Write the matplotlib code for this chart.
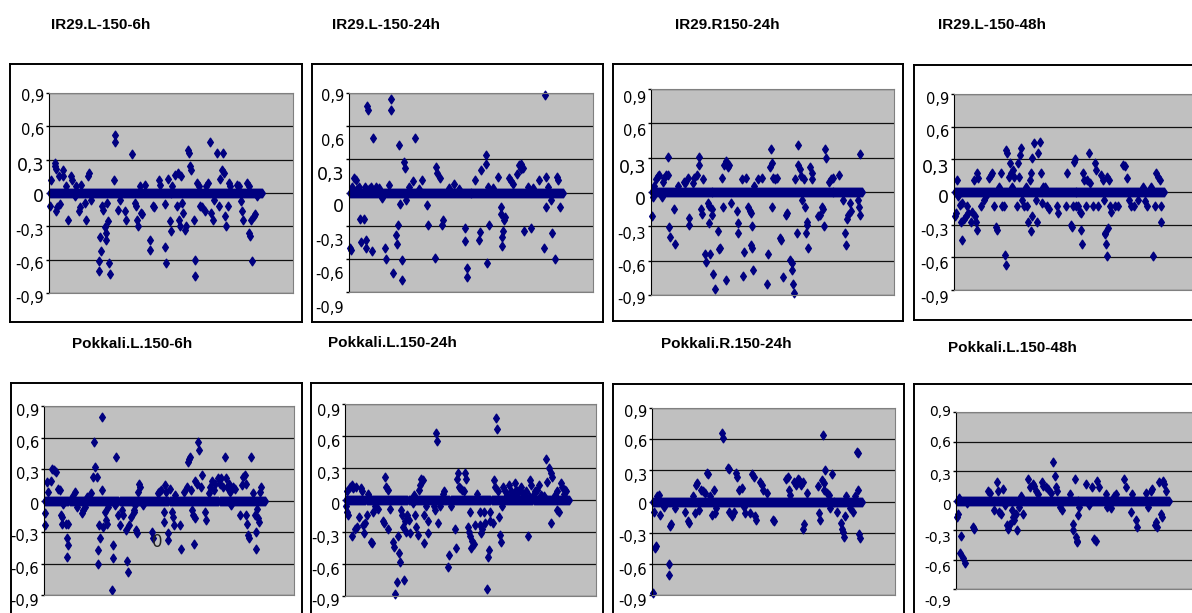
import numpy as np
import matplotlib.pyplot as plt
from matplotlib.path import Path
from matplotlib.transforms import ScaledTranslation

W, H = 1192, 613

titles = ["IR29.L-150-6h", "IR29.L-150-24h", "IR29.R150-24h", "IR29.L-150-48h",
          "Pokkali.L.150-6h", "Pokkali.L.150-24h", "Pokkali.R.150-24h", "Pokkali.L.150-48h"]

# genes per array; every gene not listed below sits on 0
n_genes = [214, 215, 213, 211, 217, 219, 212, 214]

# (gene index, log ratio) of the genes that move away from 0
ir29_l_6h = [
    (1, -0.12), (2, 0.12), (6, 0.24), (6, 0.27), (7, 0.22), (7, -0.16), (8, -0.13), (10, 0.15),
    (11, -0.1), (14, 0.21), (14, 0.15), (17, 0.06), (19, -0.24), (22, 0.15), (23, 0.12), (26, -0.03),
    (27, 0.06), (30, -0.16), (31, -0.13), (32, 0.07), (36, -0.09), (37, -0.24), (39, 0.15), (40, 0.18),
    (42, -0.06), (50, -0.61), (50, -0.7), (51, -0.4), (52, -0.52), (53, -0.12), (54, -0.15), (56, -0.31),
    (57, -0.36), (57, -0.42), (58, -0.09), (59, -0.25), (60, -0.63), (61, -0.73), (65, 0.12), (66, 0.52),
    (66, 0.46), (69, -0.15), (71, -0.06), (76, -0.16), (77, -0.24), (83, 0.35), (86, -0.09), (87, -0.12),
    (88, -0.24), (89, -0.3), (91, 0.06), (92, -0.18), (93, -0.19), (96, 0.07), (101, -0.42), (101, -0.51),
    (104, -0.12), (105, -0.13), (110, 0.12), (111, 0.07), (116, -0.1), (116, -0.49), (117, -0.63),
    (119, 0.13), (121, -0.25), (122, -0.34), (124, 0.06), (127, 0.16), (129, -0.12), (130, 0.18),
    (131, -0.24), (132, -0.3), (133, 0.15), (134, -0.09), (135, -0.18), (137, -0.33), (138, -0.3),
    (140, 0.39), (141, 0.36), (142, 0.24), (143, 0.21), (146, -0.24), (147, -0.75), (147, -0.6),
    (149, 0.09), (151, 0.06), (152, -0.12), (154, -0.13), (157, -0.16), (158, 0.06), (160, 0.09),
    (162, 0.46), (163, -0.18), (165, -0.24), (166, -0.06), (169, 0.36), (171, -0.12), (172, 0.13),
    (174, 0.21), (175, 0.36), (176, 0.18), (177, -0.21), (178, -0.3), (180, -0.12), (181, 0.09),
    (182, 0.06), (189, 0.07), (191, 0.06), (193, -0.07), (194, -0.16), (195, -0.24), (199, 0.09),
    (201, 0.06), (201, -0.36), (202, -0.39), (203, -0.24), (204, -0.61), (206, -0.21), (207, -0.19),
    (209, -0.03)]

ir29_l_24h = [
    (1, -0.5), (2, -0.52), (3, 0.05), (5, 0.13), (7, 0.11), (8, 0.03), (10, 0.05), (11, -0.24), (12, -0.45),
    (15, -0.24), (16, 0.05), (17, -0.43), (17, -0.5), (18, 0.78), (19, 0.75), (20, 0.03), (22, 0.05),
    (23, -0.53), (24, 0.49), (27, 0.05), (30, 0.04), (33, -0.05), (36, -0.5), (37, -0.6), (40, 0.07),
    (42, 0.85), (42, 0.75), (44, -0.73), (47, -0.38), (48, -0.47), (49, -0.29), (50, 0.43), (51, -0.1),
    (53, -0.61), (53, -0.79), (55, 0.28), (56, 0.22), (57, -0.07), (60, 0.05), (64, 0.1), (66, 0.49),
    (70, 0.03), (73, 0.11), (78, -0.11), (79, -0.29), (86, -0.59), (87, 0.23), (88, 0.18), (91, 0.13),
    (93, -0.29), (94, -0.25), (100, 0.04), (105, 0.08), (110, 0.03), (116, -0.32), (116, -0.44),
    (118, -0.68), (118, -0.76), (127, 0.11), (131, -0.43), (132, -0.36), (133, 0.2), (138, 0.34),
    (138, 0.26), (139, -0.64), (140, 0.05), (141, -0.29), (145, 0.04), (150, 0.14), (153, -0.13),
    (153, -0.19), (154, -0.4), (154, -0.48), (155, -0.35), (156, -0.25), (157, -0.22), (161, 0.13),
    (163, 0.1), (165, 0.08), (169, 0.17), (171, 0.25), (173, 0.21), (173, 0.26), (175, 0.22),
    (176, -0.35), (180, 0.05), (183, -0.32), (185, 0.04), (191, 0.11), (196, -0.5), (197, 0.88),
    (198, 0.14), (198, -0.13), (200, 0.05), (203, -0.07), (204, -0.37), (207, -0.6), (209, 0.14),
    (210, 0.11), (212, -0.13)]

ir29_r_24h = [
    (1, -0.21), (2, -0.04), (3, 0.05), (5, 0.11), (7, 0.14), (8, 0.15), (11, -0.04), (12, 0.09), (13, 0.12),
    (15, 0.15), (17, 0.31), (17, 0.15), (18, -0.31), (19, -0.39), (23, -0.15), (24, -0.45), (27, 0.05),
    (33, 0.09), (34, 0.08), (37, 0.12), (38, -0.23), (38, -0.29), (42, 0.08), (43, 0.12), (46, 0.15),
    (48, 0.31), (48, 0.24), (50, -0.15), (51, -0.19), (52, 0.11), (54, -0.54), (55, -0.61), (57, -0.1),
    (58, -0.12), (58, -0.27), (59, -0.54), (61, -0.15), (62, -0.2), (63, -0.72), (65, -0.85), (68, -0.34),
    (69, -0.5), (70, -0.49), (72, 0.12), (73, -0.13), (74, 0.24), (76, -0.77), (76, 0.27), (78, 0.22),
    (79, 0.24), (81, -0.1), (87, -0.17), (88, -0.27), (88, -0.36), (92, 0.11), (93, -0.73), (94, -0.52),
    (96, 0.12), (98, -0.13), (100, -0.17), (101, -0.18), (101, -0.46), (102, -0.3), (102, -0.49),
    (103, -0.68), (104, 0.05), (108, 0.11), (112, 0.12), (117, -0.8), (118, -0.54), (120, 0.22),
    (121, 0.38), (122, 0.25), (122, -0.13), (123, 0.12), (125, 0.11), (127, 0.12), (130, -0.4),
    (131, -0.42), (133, -0.74), (136, -0.2), (137, -0.18), (140, -0.59), (142, -0.62), (142, -0.68),
    (143, -0.8), (144, -0.88), (145, 0.11), (147, -0.36), (148, 0.41), (148, 0.24), (150, 0.2),
    (151, 0.14), (152, -0.07), (154, 0.11), (155, -0.13), (156, -0.36), (157, -0.29), (157, -0.26),
    (158, -0.49), (160, 0.22), (162, 0.17), (162, 0.11), (168, -0.21), (170, -0.2), (172, -0.13),
    (173, -0.15), (174, -0.3), (175, 0.38), (176, 0.3), (179, 0.09), (181, 0.11), (183, 0.12),
    (190, 0.15), (194, -0.07), (196, -0.36), (197, -0.46), (198, -0.24), (199, -0.2), (201, -0.1),
    (202, -0.17), (209, -0.07), (210, -0.13), (211, -0.2), (211, 0.33)]

ir29_l_48h = [
    (1, -0.22), (2, -0.19), (3, 0.11), (4, -0.04), (6, -0.12), (7, -0.28), (8, -0.44), (8, -0.1),
    (10, -0.25), (12, -0.22), (13, -0.13), (14, -0.19), (17, -0.28), (18, -0.18), (20, 0.11), (21, -0.22),
    (22, -0.28), (23, -0.35), (23, 0.17), (24, 0.13), (27, -0.13), (30, -0.07), (32, -0.04), (35, 0.13),
    (37, 0.16), (38, 0.17), (40, -0.13), (42, -0.32), (43, -0.35), (45, 0.05), (47, 0.17), (48, -0.13),
    (50, -0.13), (51, -0.58), (52, -0.67), (52, 0.39), (53, 0.36), (55, 0.14), (56, 0.27), (57, 0.17),
    (58, 0.05), (59, 0.2), (60, 0.14), (63, -0.13), (64, 0.27), (65, 0.14), (66, 0.34), (67, 0.4),
    (68, -0.07), (70, -0.13), (72, 0.05), (73, -0.13), (74, -0.28), (76, 0.11), (77, 0.17), (77, -0.36),
    (78, -0.22), (78, 0.31), (80, 0.45), (82, -0.07), (83, -0.28), (84, 0.36), (86, 0.46), (87, 0.17),
    (88, -0.1), (89, 0.05), (91, 0.05), (93, -0.13), (95, -0.16), (103, -0.13), (104, -0.19),
    (112, -0.13), (113, 0.17), (117, -0.3), (118, -0.32), (119, -0.13), (120, 0.28), (121, 0.3),
    (122, -0.13), (125, -0.13), (127, -0.18), (128, -0.35), (128, -0.19), (129, -0.48), (130, 0.17),
    (131, 0.11), (133, -0.13), (134, 0.11), (136, 0.36), (137, 0.08), (140, -0.13), (142, 0.27),
    (143, 0.2), (145, -0.13), (148, 0.16), (150, 0.11), (151, -0.07), (152, -0.39), (152, -0.38),
    (153, -0.48), (154, -0.59), (154, 0.14), (155, -0.33), (156, 0.11), (157, -0.13), (158, -0.18),
    (162, -0.13), (165, -0.13), (170, 0.25), (172, 0.24), (174, 0.13), (176, -0.07), (178, -0.13),
    (181, -0.13), (185, -0.07), (190, 0.05), (192, -0.08), (194, -0.13), (198, 0.05), (200, -0.59),
    (202, -0.13), (203, 0.17), (205, 0.14), (207, 0.11), (208, -0.13), (208, -0.28)]

pokkali_l_6h = [
    (1, -0.12), (1, -0.23), (3, 0.18), (4, 0.08), (7, 0.19), (8, 0.3), (10, 0.29), (12, 0.27), (14, 0.11),
    (16, 0.1), (17, -0.14), (18, -0.22), (18, -0.16), (19, -0.03), (22, -0.22), (23, -0.36), (23, -0.54),
    (24, -0.42), (24, -0.22), (27, 0.03), (30, 0.08), (32, -0.06), (37, -0.12), (38, -0.09), (40, -0.06),
    (42, 0.03), (46, 0.07), (48, 0.22), (49, 0.56), (50, 0.32), (52, 0.22), (53, -0.47), (53, -0.6),
    (54, -0.23), (55, -0.36), (57, 0.1), (57, 0.8), (58, -0.25), (60, -0.11), (61, -0.19), (62, -0.22),
    (63, -0.06), (67, -0.85), (68, -0.55), (68, -0.42), (70, -0.04), (71, 0.41), (73, -0.14), (74, -0.23),
    (76, -0.09), (77, -0.14), (80, -0.28), (81, -0.58), (82, -0.68), (83, -0.23), (85, -0.16), (88, -0.11),
    (88, -0.09), (89, -0.04), (90, -0.28), (91, -0.31), (92, 0.08), (93, 0.16), (94, 0.13), (97, -0.04),
    (106, -0.3), (107, -0.36), (112, 0.07), (113, 0.08), (115, 0.1), (118, -0.11), (118, -0.2),
    (119, 0.15), (120, 0.08), (122, -0.38), (122, -0.31), (123, 0.11), (125, -0.11), (126, -0.16),
    (127, -0.23), (128, 0.05), (133, -0.23), (134, -0.46), (137, 0.08), (140, 0.13), (141, 0.37),
    (142, 0.4), (143, 0.41), (144, 0.1), (145, -0.09), (146, -0.14), (147, -0.41), (148, -0.17),
    (148, 0.19), (150, 0.16), (151, 0.56), (152, 0.48), (154, 0.13), (155, 0.24), (158, -0.11),
    (159, -0.19), (162, 0.07), (163, 0.13), (165, 0.19), (167, 0.1), (168, 0.16), (171, 0.21),
    (172, 0.16), (173, 0.21), (175, 0.13), (177, 0.41), (178, 0.21), (179, 0.13), (181, 0.16),
    (182, 0.08), (183, -0.04), (185, 0.13), (187, 0.11), (192, -0.14), (194, 0.15), (195, 0.22),
    (197, 0.24), (198, 0.16), (198, -0.14), (199, -0.22), (200, -0.33), (201, -0.36), (203, 0.41),
    (205, 0.07), (207, -0.14), (208, -0.3), (208, -0.46), (209, -0.08), (210, -0.17), (211, -0.2),
    (212, 0.08), (213, 0.13)]

pokkali_l_24h = [
    (1, -0.06), (2, 0.08), (2, -0.11), (3, -0.14), (5, 0.12), (7, 0.14), (7, -0.34), (8, 0.11), (10, -0.27),
    (11, 0.12), (12, -0.25), (14, -0.16), (16, 0.11), (17, 0.08), (18, -0.23), (19, -0.31), (20, -0.22),
    (21, -0.14), (22, 0.06), (23, 0.03), (25, -0.39), (26, -0.4), (27, -0.11), (29, -0.06), (32, -0.08),
    (37, -0.2), (38, -0.22), (39, 0.22), (40, 0.12), (42, 0.09), (42, -0.27), (44, -0.08), (47, -0.39),
    (48, -0.44), (49, -0.88), (51, -0.77), (52, -0.34), (53, -0.5), (54, -0.58), (55, -0.09), (56, -0.14),
    (57, -0.25), (58, -0.75), (59, -0.2), (60, -0.3), (61, -0.14), (62, -0.19), (63, -0.31), (66, -0.03),
    (67, 0.05), (68, -0.14), (69, -0.25), (71, -0.33), (72, 0.09), (73, 0.14), (74, 0.2), (76, 0.19),
    (77, -0.14), (77, -0.4), (79, -0.06), (81, -0.31), (81, -0.2), (87, -0.06), (88, -0.09), (89, 0.63),
    (90, 0.55), (91, -0.22), (93, -0.06), (96, 0.06), (97, 0.08), (101, -0.63), (102, -0.52), (103, -0.06),
    (107, -0.27), (108, -0.45), (109, 0.2), (110, 0.25), (111, 0.12), (112, 0.11), (114, 0.09),
    (116, 0.08), (117, 0.25), (118, 0.2), (120, -0.25), (121, -0.3), (122, -0.11), (122, -0.34),
    (123, -0.45), (124, -0.38), (126, -0.41), (127, -0.23), (129, 0.06), (132, -0.11), (132, -0.23),
    (133, -0.31), (134, -0.27), (136, -0.11), (137, -0.22), (139, -0.83), (140, -0.53), (141, -0.47),
    (142, -0.2), (142, -0.11), (144, -0.22), (145, 0.19), (146, 0.12), (147, 0.77), (148, 0.67),
    (149, 0.08), (150, -0.16), (151, -0.33), (152, -0.39), (153, -0.06), (154, 0.12), (156, 0.08),
    (158, 0.05), (160, 0.14), (162, 0.08), (164, 0.06), (166, 0.16), (167, 0.09), (168, 0.04),
    (170, 0.08), (172, 0.12), (174, 0.06), (175, 0.05), (177, 0.08), (179, -0.34), (180, 0.04),
    (181, 0.19), (182, 0.14), (184, 0.06), (185, 0.08), (187, 0.09), (189, 0.14), (191, 0.05),
    (194, 0.04), (196, 0.38), (197, 0.17), (199, 0.3), (201, 0.25), (201, -0.22), (202, 0.22),
    (205, 0.05), (207, 0.08), (207, -0.09), (209, -0.11), (211, 0.16), (212, 0.12), (214, 0.06),
    (215, 0.09), (216, 0.08)]

pokkali_r_24h = [
    (1, -0.88), (2, -0.1), (3, -0.45), (4, -0.43), (5, 0.05), (7, 0.06), (8, -0.13), (12, -0.05),
    (17, -0.6), (17, -0.71), (18, -0.24), (19, -0.22), (23, -0.06), (33, -0.1), (36, -0.19), (37, -0.21),
    (41, 0.05), (43, -0.11), (44, 0.16), (45, 0.18), (47, -0.08), (49, 0.11), (51, 0.1), (53, 0.08),
    (55, 0.27), (56, 0.26), (58, 0.05), (60, -0.13), (63, 0.11), (64, -0.11), (65, -0.06), (71, 0.66),
    (72, 0.61), (77, 0.32), (78, 0.31), (78, -0.1), (81, -0.14), (83, -0.1), (85, 0.27), (86, 0.24),
    (88, 0.11), (91, 0.13), (93, -0.05), (94, -0.11), (99, -0.11), (101, 0.26), (103, 0.24), (104, -0.14),
    (105, -0.18), (109, 0.19), (111, 0.16), (112, 0.11), (116, 0.08), (122, -0.18), (123, -0.19),
    (135, 0.22), (137, 0.24), (138, 0.11), (139, 0.06), (143, 0.19), (145, 0.16), (147, 0.22),
    (148, 0.21), (150, 0.16), (152, 0.19), (152, -0.26), (153, -0.22), (156, 0.08), (167, 0.15),
    (168, -0.11), (169, -0.18), (171, 0.21), (172, 0.64), (173, 0.18), (173, 0.11), (174, 0.3),
    (176, 0.08), (178, 0.06), (179, -0.06), (181, 0.26), (187, -0.1), (191, -0.21), (192, -0.26),
    (193, -0.29), (194, -0.34), (195, -0.14), (196, 0.05), (200, -0.06), (203, -0.1), (205, 0.05),
    (207, 0.48), (208, 0.47), (208, 0.11), (209, -0.31), (210, -0.35)]

pokkali_l_48h = [
    (1, -0.17), (2, -0.14), (3, 0.03), (4, -0.53), (5, -0.36), (7, -0.58), (9, -0.64), (11, -0.03),
    (17, -0.27), (18, -0.29), (32, 0.1), (34, 0.08), (38, -0.1), (41, 0.19), (42, 0.1), (43, -0.12),
    (45, -0.14), (47, 0.12), (49, -0.05), (51, -0.25), (52, -0.29), (54, -0.24), (56, -0.1), (57, -0.17),
    (58, -0.2), (60, -0.14), (61, -0.3), (63, -0.07), (65, 0.05), (67, -0.14), (72, 0.22), (74, 0.14),
    (77, 0.17), (78, 0.15), (80, 0.1), (82, 0.07), (86, 0.19), (87, 0.15), (90, 0.14), (92, 0.12),
    (95, 0.08), (97, 0.39), (99, 0.25), (100, 0.14), (101, 0.1), (104, -0.07), (106, -0.1), (114, 0.07),
    (117, -0.24), (117, -0.3), (119, 0.22), (120, -0.37), (121, -0.42), (121, -0.41), (122, -0.15),
    (124, -0.07), (131, 0.17), (134, -0.05), (137, 0.14), (139, -0.39), (141, -0.41), (142, 0.2),
    (144, 0.14), (151, 0.07), (152, -0.07), (156, -0.08), (159, 0.05), (161, 0.07), (169, 0.22),
    (171, 0.14), (176, -0.12), (177, 0.07), (181, -0.2), (182, -0.27), (191, 0.08), (193, -0.07),
    (196, 0.1), (197, 0.12), (200, -0.25), (201, -0.22), (202, -0.27), (204, 0.19), (206, -0.14),
    (207, -0.17), (208, 0.2), (209, 0.17), (211, 0.1)]

panels = [ir29_l_6h, ir29_l_24h, ir29_r_24h, ir29_l_48h,
          pokkali_l_6h, pokkali_l_24h, pokkali_r_24h, pokkali_l_48h]

tick_vals = [0.9, 0.6, 0.3, 0, -0.3, -0.6, -0.9]
tick_text = ["0,9", "0,6", "0,3", "0", "-0,3", "-0,6", "-0,9"]

# pixel layout: chart frame, plot area, title centre
frames = [(10, 64, 302, 322), (312, 64, 603, 322), (613, 64, 903, 321), (914, 65, 1206, 320),
          (11, 383, 302, 640), (311, 383, 603, 640), (613, 384, 904, 640), (914, 384, 1206, 640)]
areas = [(49, 93, 293, 293), (349, 93, 593, 292), (651, 89, 894, 295), (954, 94, 1198, 290),
         (44, 406, 294, 595), (345, 404, 596, 596), (652, 408, 895, 595), (956, 412, 1200, 589)]
title_xy = [(101, 25), (386, 25), (727, 25), (992, 25),
            (132, 344), (392, 343), (726, 344), (1012, 348)]
# how far each axis label sits below its gridline (px)
label_drop = [[2, 3, 4, 2, 4, 3, 4], [2, 14, 14, 13, 14, 14, 15], [8, 7, 8, 6, 7, 5, 3],
              [4, 4, 7, 4, 5, 6, 7], [4, 4, 4, 4, 3, 5, 5], [6, 5, 5, 4, 5, 5, 4],
              [3, 2, 5, 3, 3, 5, 5], [-2, 0, 3, 4, 6, 7, 11]]
label_size = [10.5, 10.5, 10.5, 10.5, 10.5, 10.5, 10.5, 10]

diamond = Path([(0, 1), (0.66, 0), (0, -1), (-0.66, 0), (0, 1)],
               [Path.MOVETO, Path.LINETO, Path.LINETO, Path.LINETO, Path.CLOSEPOLY])
NAVY = '#000080'


def rect(x0, y0, x1, y1):
    return [x0 / W, 1 - y1 / H, (x1 - x0) / W, (y1 - y0) / H]


fig = plt.figure(figsize=(W / 100, H / 100), dpi=100)

for i, pts in enumerate(panels):
    box = fig.add_axes(rect(*frames[i]))
    box.set_xticks([])
    box.set_yticks([])
    for s in box.spines.values():
        s.set_linewidth(1.4)
        s.set_color('black')

    ax = fig.add_axes(rect(*areas[i]))
    ax.set_facecolor('#c0c0c0')
    ax.set_xlim(0, 245)
    ax.set_ylim(-0.9, 0.9)
    ax.set_xticks([])
    ax.set_yticks(tick_vals)
    ax.set_yticklabels(tick_text)
    ax.yaxis.grid(True, color='#111111', lw=0.9)
    ax.set_axisbelow(True)
    for side in ['top', 'right', 'bottom']:
        ax.spines[side].set_color('#808080')
    ax.spines['left'].set_color('black')
    ax.tick_params(axis='y', direction='out', length=2.5, width=1, pad=1,
                   labelsize=label_size[i])

    for lbl, txt, dy in zip(ax.get_yticklabels(), tick_text, label_drop[i]):
        lbl.set_transform(lbl.get_transform() + ScaledTranslation(0, -dy / 100, fig.dpi_scale_trans))
        if i < 4 and txt in ("0,3", "0"):
            lbl.set_fontsize(12.5)

    n = n_genes[i]
    gx = np.arange(1, n + 1)
    ax.plot(gx, np.zeros(n), ls='none', marker=diamond, ms=6.2, color=NAVY, clip_on=False)
    ox = [p[0] for p in pts]
    oy = [p[1] for p in pts]
    ax.plot(ox, oy, ls='none', marker=diamond, ms=6.2, color=NAVY, clip_on=False)

    tx, ty = title_xy[i]
    fig.text(tx / W, 1 - ty / H, titles[i], ha='center', va='center',
             fontsize=11, fontweight='bold', family='Liberation Sans')

# stray value label left inside the first Pokkali chart
fig.text(157 / W, 1 - 542 / H, "0", ha='center', va='center', fontsize=12, color='#222222')

fig.savefig('out.png', dpi=100)
